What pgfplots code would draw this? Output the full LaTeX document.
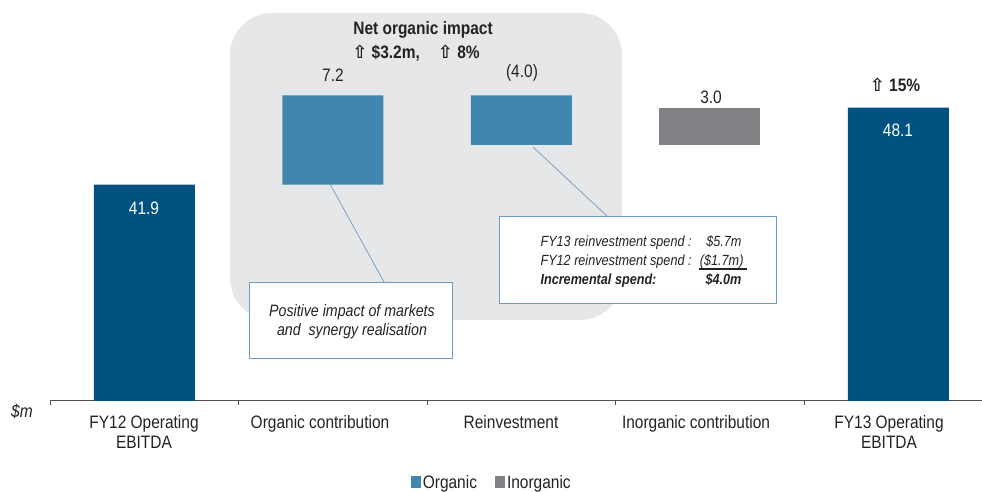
\documentclass[border=0pt]{standalone}
\usepackage{pgfplots}
\pgfplotsset{compat=1.18}
\usepackage{fontspec}
\setmainfont{Liberation Sans}[FakeStretch=0.86]
\newfontfamily\sym{DejaVu Sans}
\definecolor{dkblue}{RGB}{0,83,128}
\definecolor{orgblue}{RGB}{65,134,174}
\definecolor{inorg}{RGB}{128,130,133}
\definecolor{bggray}{RGB}{230,231,232}
\definecolor{txt}{RGB}{35,35,35}
\definecolor{callout}{RGB}{110,155,195}
\newcommand{\up}{{\sym ⇧}}
\begin{document}
\begin{tikzpicture}[x=1pt,y=1pt,font=\fontsize{18}{20}\selectfont\color{txt}]
\useasboundingbox (0,0) rectangle (982,491);
% background panel
\fill[bggray, rounded corners=42pt] (230,171) rectangle (622,478);
\begin{axis}[
  at={(50pt,91pt)}, anchor=south west,
  scale only axis, width=932pt, height=400pt,
  xmin=-0.5, xmax=4.444, ymin=24.5, ymax=56.8,
  ybar stacked, bar width=101pt,
  axis x line*=bottom, axis y line=none,
  x axis line style={draw=txt!80, line width=0.8pt, -},
  xtick={0,1,2,3,4},
  xticklabels={},
  major tick length=0pt,
  extra x ticks={-0.5,0.5,1.5,2.5,3.5},
  extra x tick labels={},
  extra x tick style={major tick length=5pt, tick align=outside, tick style={draw=txt!80, line width=0.8pt}},
  legend style={at={(axis description cs:0.474,-0.177)}, anchor=north, draw=none, fill=none, legend columns=2, font=\fontsize{18}{20}\selectfont\color{txt}, /tikz/every even column/.append style={column sep=16pt}, /tikz/every odd column/.append style={inner xsep=2pt}},
  legend image code/.code={\fill[#1] (0pt,-6pt) rectangle (10pt,6pt);},
]
% invisible base for floating bars
\addplot+[fill=none, draw=none, forget plot] coordinates {(0,0) (1,41.9) (2,45.1) (3,45.1) (4,0)};
\addplot+[fill=dkblue, draw=none, forget plot] coordinates {(0,41.9) (1,0) (2,0) (3,0) (4,48.1)};
\addplot+[fill=orgblue, draw=none] coordinates {(0,0) (1,7.2) (2,4.0) (3,0) (4,0)};
\addlegendentry{Organic}
\addplot+[fill=inorg, draw=none] coordinates {(0,0) (1,0) (2,0) (3,3.0) (4,0)};
\addlegendentry{Inorganic}
\end{axis}
% category labels
\node[align=center, anchor=north] at (144,79) {FY12 Operating\\EBITDA};
\node[anchor=north] at (320,79) {Organic contribution};
\node[anchor=north] at (511,79) {Reinvestment};
\node[anchor=north] at (696,79) {Inorganic contribution};
\node[align=center, anchor=north] at (889,79) {FY13 Operating\\EBITDA};
\node[font=\fontsize{18}{20}\selectfont\itshape\color{txt}] at (22,80) {\$m};
% value labels
\node[text=white] at (144,283) {41.9};
\node[text=white] at (898,361) {48.1};
\node at (333,416) {7.2};
\node at (522,418) {(4.0)};
\node at (711,394) {3.0};
\node[font=\fontsize{18}{20}\selectfont\bfseries\color{txt}] at (895,406) {\up\ 15\%};
\node[font=\fontsize{18}{20}\selectfont\bfseries\color{txt}] at (423,461) {Net organic impact};
\node[font=\fontsize{18}{20}\selectfont\bfseries\color{txt}] at (416,438) {\up\ \$3.2m,\quad \up\ 8\%};
% callouts
\draw[callout, line width=0.7pt] (330,307) -- (384,209);
\draw[callout, line width=0.7pt] (533,344) -- (607,275);
\draw[callout, line width=1pt, fill=white] (249,133) rectangle (452,209);
\node[font=\fontsize{16.5}{19.5}\selectfont\itshape\color{txt}, align=center] at (352,169.5) {Positive impact of markets\\and\ \ synergy realisation};
\draw[callout, line width=1pt, fill=white] (499,188) rectangle (776,275);
\begin{scope}[every node/.style={font=\fontsize{14.7}{17}\selectfont\itshape\color{txt}}]
\node[anchor=base west] at (537,245) {FY13 reinvestment spend :};
\node[anchor=base east] at (745,245) {\$5.7m};
\node[anchor=base west] at (537,226) {FY12 reinvestment spend :};
\node[anchor=base east] at (747,226) {(\$1.7m)};
\node[anchor=base west, font=\fontsize{14.7}{17}\selectfont\itshape\bfseries\color{txt}] at (537,207) {Incremental spend:};
\node[anchor=base east, font=\fontsize{14.7}{17}\selectfont\itshape\bfseries\color{txt}] at (745,207) {\$4.0m};
\end{scope}
\draw[txt, line width=1.2pt] (699,222) -- (747,222);
\end{tikzpicture}
\end{document}
